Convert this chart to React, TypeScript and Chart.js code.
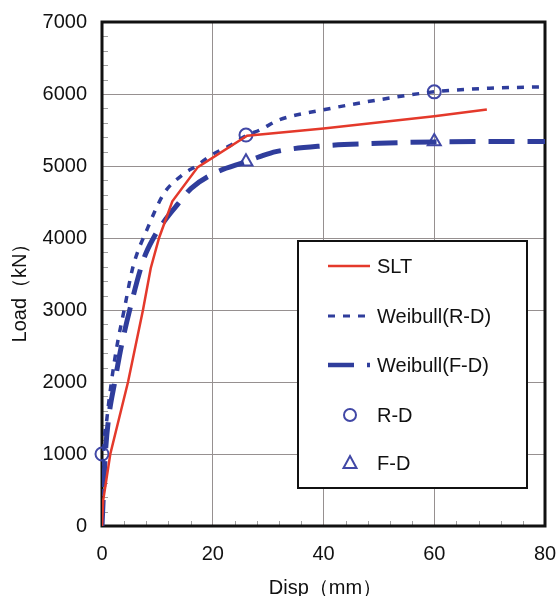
import React, { useEffect, useRef } from 'react';
import { Chart, registerables } from 'chart.js';

Chart.register(...registerables);

// ---- data ----
const sltX = [0, 0.2, 1.5, 4.7, 7.4, 8.8, 10.3, 12.7, 17.3, 26.2, 40, 60, 69.5];
const sltY = [0, 350, 1000, 2000, 3000, 3580, 4000, 4510, 4985, 5420, 5520, 5690, 5785];

const rdX = [0, 0.3, 0.9, 1.7, 2.7, 4.0, 5.6, 8.2, 11.2, 14.5, 17.3, 19.7, 23.3, 26, 28.5, 32, 40, 50, 60, 70, 80, 85];
const rdY = [0, 1000, 1500, 2000, 2500, 3000, 3600, 4130, 4620, 4875, 5014, 5150, 5290, 5420, 5500, 5640, 5780, 5920, 6030, 6080, 6100, 6110];

const fdX = [0, 0.6, 1.2, 2.3, 3.5, 5.0, 7.5, 9.3, 11.5, 13.8, 16.1, 20.3, 26, 28.5, 31.4, 40, 50, 60, 70, 80, 85];
const fdY = [0, 1000, 1500, 2000, 2500, 3000, 3700, 4000, 4260, 4480, 4690, 4900, 5060, 5130, 5200, 5280, 5315, 5335, 5340, 5340, 5340];

const rdPtX = [0, 26, 60];
const rdPtY = [1000, 5430, 6030];
const fdPtX = [26, 60];
const fdPtY = [5060, 5340];

const seriesLabels = ['SLT', 'Weibull(R-D)', 'Weibull(F-D)', 'R-D', 'F-D'];
const xTitle = 'Disp（mm）';
const yTitle = 'Load（kN）';

const RED = '#e4392b';
const BLUE = '#2f3d9c';
const MARK = '#4148a6';
const FONT = '"Liberation Sans", Arial, sans-serif';

const pts = (xs: number[], ys: number[]) => xs.map((x, i) => ({ x, y: ys[i] }));

const decorPlugin = {
  id: 'decor',
  beforeDatasetsDraw(chart: any) {
    const { ctx, chartArea: a, scales } = chart;
    ctx.save();
    ctx.strokeStyle = '#a0a0a0';
    ctx.lineWidth = 1;
    for (let v = 200; v < 7000; v += 200) {
      if (v % 1000 === 0) continue;
      const y = Math.round(scales.y.getPixelForValue(v)) + 0.5;
      ctx.beginPath();
      ctx.moveTo(a.left, y);
      ctx.lineTo(a.left + 6, y);
      ctx.stroke();
    }
    for (let v = 4; v < 80; v += 4) {
      if (v % 20 === 0) continue;
      const x = Math.round(scales.x.getPixelForValue(v)) + 0.5;
      ctx.beginPath();
      ctx.moveTo(x, a.bottom);
      ctx.lineTo(x, a.bottom - 5);
      ctx.stroke();
    }
    ctx.strokeStyle = '#111';
    ctx.lineWidth = 3;
    ctx.strokeRect(a.left, a.top, a.right - a.left, a.bottom - a.top);
    ctx.restore();
  },
  afterDraw(chart: any) {
    const { ctx, chartArea: a } = chart;
    ctx.save();
    // axis titles
    ctx.fillStyle = '#111';
    ctx.font = `20px ${FONT}`;
    ctx.textAlign = 'center';
    ctx.textBaseline = 'middle';
    ctx.fillText(xTitle, (a.left + a.right) / 2 + 2, 588);
    ctx.save();
    ctx.translate(20, 288);
    ctx.rotate(-Math.PI / 2);
    ctx.fillText(yTitle, 0, 0);
    ctx.restore();

    // legend
    const bx = 298, by = 241, bw = 229, bh = 247;
    ctx.fillStyle = '#fff';
    ctx.fillRect(bx, by, bw, bh);
    ctx.strokeStyle = '#111';
    ctx.lineWidth = 2;
    ctx.strokeRect(bx, by, bw, bh);
    const rows = [266, 316, 365, 415, 463];
    const ds = chart.data.datasets;
    rows.forEach((ry, i) => {
      const d = ds[i];
      if (i < 3) {
        ctx.save();
        ctx.strokeStyle = d.borderColor;
        ctx.lineWidth = i === 0 ? 2.5 : i === 1 ? 3 : 4.5;
        ctx.setLineDash(d.borderDash || []);
        ctx.beginPath();
        ctx.moveTo(328, ry);
        ctx.lineTo(370, ry);
        ctx.stroke();
        ctx.restore();
      } else {
        ctx.save();
        ctx.strokeStyle = MARK;
        ctx.lineWidth = 2;
        ctx.beginPath();
        if (i === 3) {
          ctx.arc(350, ry, 6, 0, Math.PI * 2);
        } else {
          ctx.moveTo(350, ry - 7);
          ctx.lineTo(356.5, ry + 5);
          ctx.lineTo(343.5, ry + 5);
          ctx.closePath();
        }
        ctx.stroke();
        ctx.restore();
      }
      ctx.fillStyle = '#111';
      ctx.font = `20px ${FONT}`;
      ctx.textAlign = 'left';
      ctx.textBaseline = 'middle';
      ctx.fillText(d.label, 377, ry + 1);
    });
    ctx.restore();
  },
};

export default function App() {
  const ref = useRef<HTMLCanvasElement | null>(null);
  useEffect(() => {
    if (!ref.current) return;
    const gridColor = 'rgb(150,144,144)';
    const chart = new Chart(ref.current, {
      type: 'line',
      data: {
        datasets: [
          {
            label: seriesLabels[0],
            data: pts(sltX, sltY),
            borderColor: RED,
            borderWidth: 2.5,
            pointRadius: 0,
            tension: 0,
            clip: 0,
          },
          {
            label: seriesLabels[1],
            data: pts(rdX, rdY),
            borderColor: BLUE,
            borderWidth: 3.5,
            borderDash: [7, 8],
            pointRadius: 0,
            cubicInterpolationMode: 'monotone',
            clip: 0,
          },
          {
            label: seriesLabels[2],
            data: pts(fdX, fdY),
            borderColor: BLUE,
            borderWidth: 5,
            borderDash: [26, 13],
            pointRadius: 0,
            cubicInterpolationMode: 'monotone',
            clip: 0,
          },
          {
            label: seriesLabels[3],
            data: pts(rdPtX, rdPtY),
            showLine: false,
            pointStyle: 'circle',
            pointRadius: 6.5,
            pointBorderWidth: 2,
            pointBorderColor: MARK,
            pointBackgroundColor: 'rgba(0,0,0,0)',
            borderColor: MARK,
            clip: false,
          },
          {
            label: seriesLabels[4],
            data: pts(fdPtX, fdPtY),
            showLine: false,
            pointStyle: 'triangle',
            pointRadius: 7.5,
            pointBorderWidth: 2,
            pointBorderColor: MARK,
            pointBackgroundColor: 'rgba(0,0,0,0)',
            borderColor: MARK,
            clip: false,
          },
        ] as any,
      },
      options: {
        animation: false,
        responsive: false,
        devicePixelRatio: 1,
        layout: { autoPadding: false, padding: { top: 22, right: 15, left: 0, bottom: 0 } },
        plugins: { legend: { display: false }, tooltip: { enabled: false } },
        scales: {
          x: {
            type: 'linear',
            min: 0,
            max: 80,
            ticks: {
              stepSize: 20, color: '#111', font: { family: FONT, size: 20 }, padding: 16, maxRotation: 0,
              callback: (v: any) => String(v),
            },
            grid: { color: gridColor, lineWidth: 1, drawTicks: false },
            border: { display: false },
            afterFit: (s: any) => { s.height = 70; s.paddingLeft = 0; s.paddingRight = 0; },
          },
          y: {
            type: 'linear',
            min: 0,
            max: 7000,
            ticks: {
              stepSize: 1000, color: '#111', font: { family: FONT, size: 20 }, padding: 15,
              callback: (v: any) => String(v),
            },
            grid: { color: gridColor, lineWidth: 1, drawTicks: false },
            border: { display: false },
            afterFit: (s: any) => { s.width = 102; s.paddingTop = 0; s.paddingBottom = 0; },
          },
        },
      } as any,
      plugins: [decorPlugin],
    });
    return () => chart.destroy();
  }, []);
  return (
    <div style={{ position: 'absolute', left: 0, top: 0, width: 560, height: 596, background: '#fff' }}>
      <canvas ref={ref} width={560} height={596} style={{ display: 'block' }} />
    </div>
  );
}
